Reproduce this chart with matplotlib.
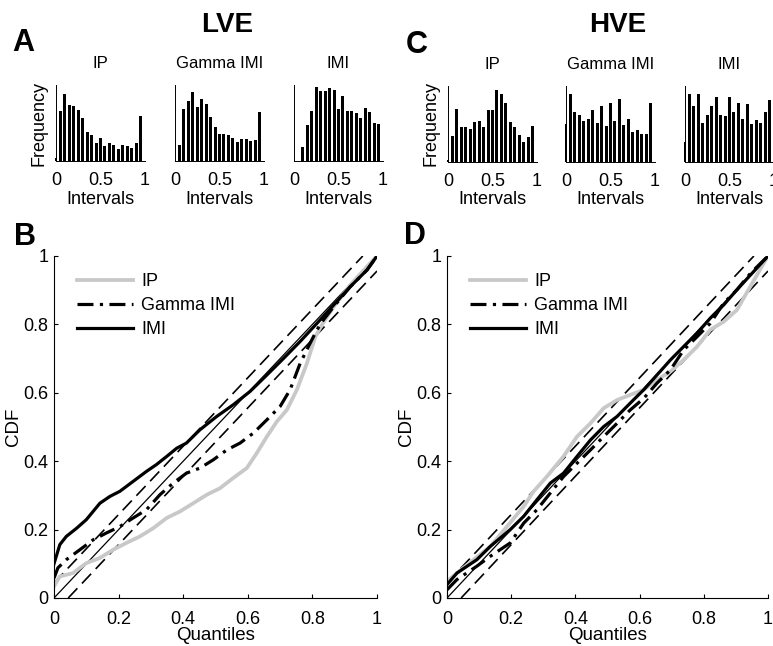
import numpy as np
import matplotlib
matplotlib.use('Agg')
from matplotlib import pyplot as plt

plt.rcParams['font.family'] = ['Liberation Sans', 'DejaVu Sans']

W, H = 773, 646

# 直方图：区间（0-1，20 个箱）和各模型的频数
bins = np.arange(20) * 0.05
hist_titles = ['IP', 'Gamma IMI', 'IMI']
lve_ip = [10, 150, 200, 168, 165, 153, 130, 87, 77, 53, 69, 45, 53, 48, 37, 48, 44, 40, 53, 135]
lve_gamma = [0, 47, 157, 179, 207, 161, 185, 172, 131, 101, 82, 82, 77, 70, 57, 67, 67, 61, 62, 146]
lve_imi = [0, 0, 41, 109, 149, 222, 211, 211, 220, 212, 157, 195, 151, 151, 145, 129, 159, 147, 114, 112]
hve_ip = [5, 79, 160, 106, 104, 99, 119, 124, 106, 157, 157, 217, 204, 177, 119, 104, 82, 60, 76, 109]
hve_gamma = [115, 203, 151, 140, 123, 128, 155, 117, 168, 109, 178, 123, 189, 111, 129, 89, 97, 85, 85, 177]
hve_imi = [59, 205, 167, 205, 118, 141, 167, 196, 141, 137, 196, 151, 176, 128, 173, 115, 127, 118, 150, 187]

# QQ / CDF 曲线
lve_ip_x = [0, 0.018, 0.059, 0.10, 0.142, 0.183, 0.224, 0.266, 0.307, 0.349, 0.39, 0.431, 0.473, 0.514,
            0.555, 0.597, 0.628, 0.659, 0.69, 0.721, 0.752, 0.783, 0.809, 0.829, 0.866, 0.917, 0.969, 1.0]
lve_ip_y = [0.034, 0.063, 0.073, 0.102, 0.117, 0.141, 0.161, 0.18, 0.204, 0.234, 0.253, 0.277, 0.302, 0.321,
            0.351, 0.38, 0.424, 0.472, 0.516, 0.55, 0.609, 0.686, 0.764, 0.798, 0.852, 0.915, 0.969, 1.0]
lve_gamma_x = [0, 0.012, 0.038, 0.08, 0.121, 0.162, 0.204, 0.245, 0.286, 0.328, 0.369, 0.41, 0.452, 0.493,
               0.535, 0.576, 0.617, 0.659, 0.70, 0.731, 0.762, 0.793, 0.814, 0.834, 0.866, 0.917, 0.969, 1.0]
lve_gamma_y = [0.058, 0.088, 0.112, 0.141, 0.17, 0.19, 0.209, 0.234, 0.258, 0.302, 0.336, 0.365, 0.38, 0.404,
               0.433, 0.453, 0.482, 0.521, 0.56, 0.609, 0.686, 0.745, 0.784, 0.813, 0.852, 0.91, 0.959, 1.0]
lve_imi_x = [0, 0.018, 0.038, 0.07, 0.10, 0.142, 0.173, 0.204, 0.245, 0.286, 0.317, 0.349, 0.38, 0.41,
             0.452, 0.504, 0.555, 0.607, 0.659, 0.71, 0.762, 0.814, 0.866, 0.917, 0.969, 1.0]
lve_imi_y = [0.10, 0.156, 0.18, 0.204, 0.229, 0.277, 0.297, 0.312, 0.341, 0.37, 0.39, 0.414, 0.438, 0.453,
             0.492, 0.531, 0.565, 0.604, 0.652, 0.70, 0.75, 0.803, 0.857, 0.91, 0.959, 1.0]

hve_ip_x = [0, 0.031, 0.083, 0.135, 0.187, 0.239, 0.27, 0.311, 0.363, 0.405, 0.447, 0.488, 0.53, 0.571,
            0.613, 0.654, 0.696, 0.737, 0.779, 0.82, 0.862, 0.903, 0.945, 1.0]
hve_ip_y = [0.049, 0.073, 0.112, 0.151, 0.209, 0.268, 0.312, 0.355, 0.414, 0.472, 0.511, 0.555, 0.579, 0.594,
            0.609, 0.638, 0.662, 0.696, 0.735, 0.784, 0.808, 0.842, 0.911, 1.0]
hve_x = [0, 0.031, 0.093, 0.135, 0.197, 0.239, 0.28, 0.322, 0.363, 0.405, 0.447, 0.488, 0.53, 0.571,
         0.613, 0.654, 0.696, 0.737, 0.779, 0.82, 0.862, 0.903, 0.945, 1.0]
hve_gamma_y = [0.024, 0.054, 0.093, 0.122, 0.161, 0.219, 0.258, 0.307, 0.355, 0.394, 0.433, 0.472, 0.511, 0.55,
               0.584, 0.628, 0.667, 0.725, 0.764, 0.803, 0.862, 0.901, 0.949, 1.0]
hve_imi_y = [0.039, 0.073, 0.112, 0.151, 0.20, 0.239, 0.287, 0.336, 0.365, 0.414, 0.462, 0.501, 0.531, 0.57,
             0.609, 0.652, 0.696, 0.735, 0.774, 0.818, 0.857, 0.901, 0.944, 1.0]

# KS 置信带宽度
ks_band = 0.044

gray = '#c8c8c8'
fig = plt.figure(figsize=(W / 100, H / 100), dpi=100)


def px_axes(left, top, right, bottom):
    return fig.add_axes([left / W, 1 - bottom / H, (right - left) / W, (bottom - top) / H])


def draw_hist(ax, heights, title, ylabel):
    ax.bar(bins, heights, width=0.033, color='black', clip_on=False)
    ax.set_xlim(0, 1)
    ax.set_ylim(0, 228)
    ax.spines['top'].set_visible(False)
    ax.spines['right'].set_visible(False)
    ax.spines['left'].set_linewidth(0.7)
    ax.spines['bottom'].set_linewidth(0.7)
    ax.set_yticks([])
    ax.set_xticks([0, 0.5, 1])
    ax.set_xticklabels(['0', '0.5', '1'])
    ax.tick_params(axis='x', direction='in', length=0, labelsize=13, pad=8)
    ax.set_xlabel('Intervals', fontsize=13, labelpad=1)
    ax.set_title(title, fontsize=12, pad=12)
    if ylabel:
        ax.set_ylabel('Frequency', fontsize=13, labelpad=6)


def draw_cdf(ax, curves):
    ax.plot([0, 1 - ks_band], [ks_band, 1], color='black', lw=1.2, ls=(0, (8, 4)))
    ax.plot([ks_band, 1], [0, 1 - ks_band], color='black', lw=1.2, ls=(0, (8, 4)))
    ax.plot([0, 1], [0, 1], color='black', lw=0.9)
    (ipx, ipy), (gx, gy), (mx, my) = curves
    ax.plot(ipx, ipy, color=gray, lw=2.7, label='IP')
    ax.plot(gx, gy, color='black', lw=2.3, ls=(0, (5, 2, 1, 2)), label='Gamma IMI')
    ax.plot(mx, my, color='black', lw=2.3, label='IMI')
    ax.set_xlim(0, 1)
    ax.set_ylim(0, 1)
    ax.spines['top'].set_visible(False)
    ax.spines['right'].set_visible(False)
    ax.spines['left'].set_linewidth(0.8)
    ax.spines['bottom'].set_linewidth(0.8)
    ticks = [0, 0.2, 0.4, 0.6, 0.8, 1]
    labels = ['0', '0.2', '0.4', '0.6', '0.8', '1']
    ax.set_xticks(ticks)
    ax.set_xticklabels(labels)
    ax.set_yticks(ticks)
    ax.set_yticklabels(labels)
    ax.tick_params(direction='in', length=3, width=0.8, labelsize=13)
    ax.tick_params(axis='x', pad=9)
    ax.tick_params(axis='y', pad=4)
    ax.set_xlabel('Quantiles', fontsize=13.5, labelpad=0)
    ax.set_ylabel('CDF', fontsize=13.5, labelpad=1)
    ax.legend(loc='upper left', bbox_to_anchor=(0.05, 0.97), frameon=False, fontsize=13,
              handlelength=3.1, handletextpad=0.45, labelspacing=0.38, borderaxespad=0)


# A / C 直方图
hist_left_lve = [56, 175, 294]
hist_left_hve = [448, 566, 685]
for i, (h, left) in enumerate(zip([lve_ip, lve_gamma, lve_imi], hist_left_lve)):
    ax = px_axes(left, 85, left + 89, 161)
    draw_hist(ax, h, hist_titles[i], i == 0)
for i, (h, left) in enumerate(zip([hve_ip, hve_gamma, hve_imi], hist_left_hve)):
    ax = px_axes(left, 86, left + 89, 162)
    draw_hist(ax, h, hist_titles[i], i == 0)

# B / D CDF 图
axB = px_axes(54, 256, 377, 598)
draw_cdf(axB, [(lve_ip_x, lve_ip_y), (lve_gamma_x, lve_gamma_y), (lve_imi_x, lve_imi_y)])
axD = px_axes(447, 256, 768, 598)
draw_cdf(axD, [(hve_ip_x, hve_ip_y), (hve_x, hve_gamma_y), (hve_x, hve_imi_y)])

# 标题和面板字母
fig.text(227 / W, 1 - 25 / H, 'LVE', fontsize=20, fontweight='bold', ha='center', va='center')
fig.text(618 / W, 1 - 25 / H, 'HVE', fontsize=20, fontweight='bold', ha='center', va='center')
for letter, x, y in [('A', 23, 43), ('C', 417, 45), ('B', 25, 237), ('D', 415, 236)]:
    fig.text(x / W, 1 - y / H, letter, fontsize=22, fontweight='bold', ha='center', va='center')

plt.savefig('out.png', dpi=100)
